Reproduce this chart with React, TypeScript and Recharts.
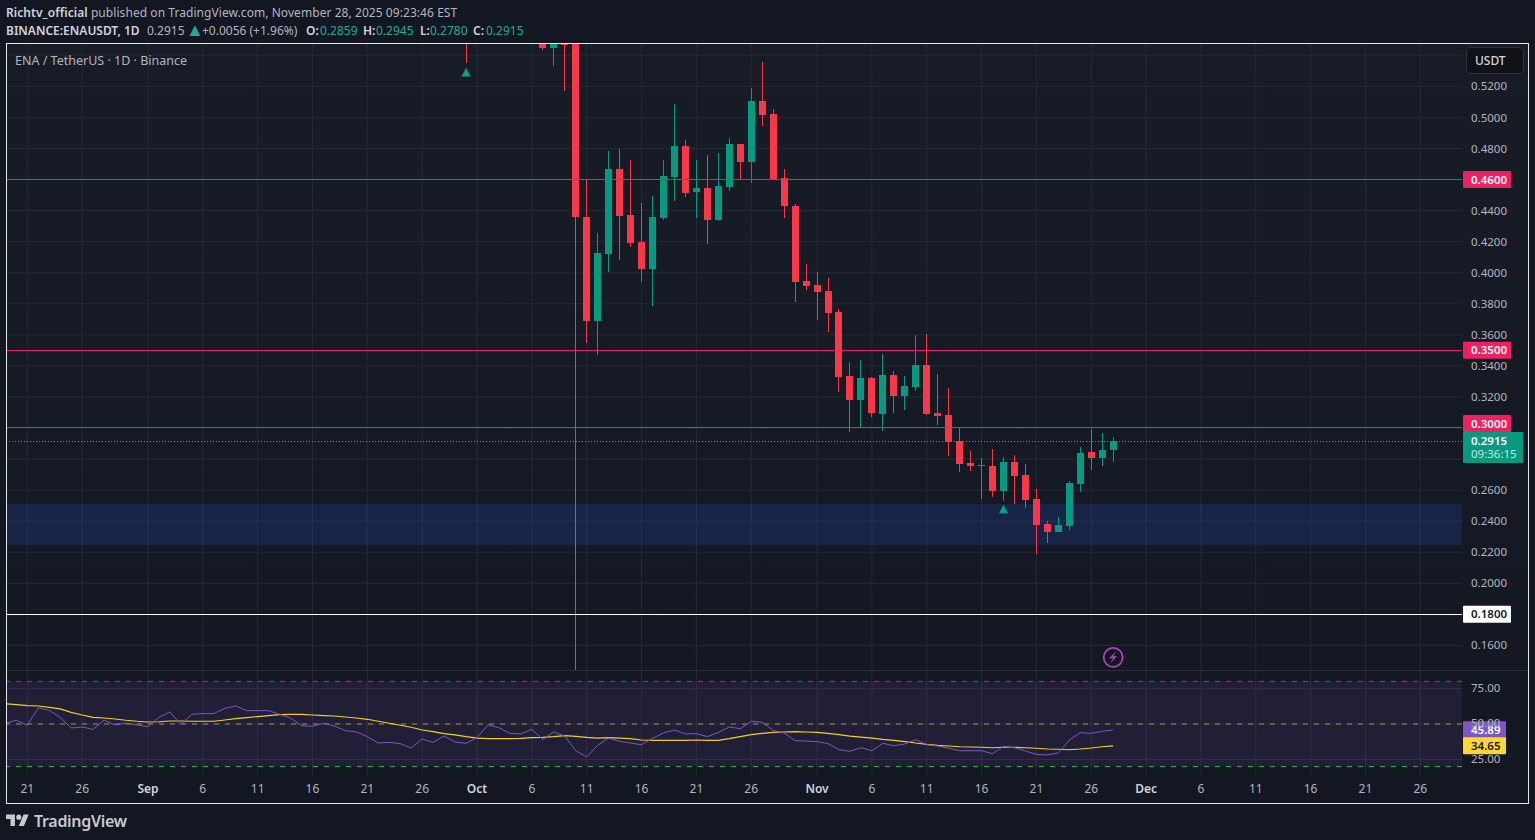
import {
  Bar,
  CartesianGrid,
  ComposedChart,
  Line,
  ReferenceArea,
  ReferenceDot,
  ReferenceLine,
  XAxis,
  YAxis,
} from "recharts";

// days are counted from Oct 1 2025 = 0
const candleDays = [
  -1, 6, 7, 8, 9, 10, 11, 12, 13, 14, 15, 16, 17, 18, 19, 20, 21, 22, 23, 24, 25, 26, 27, 28, 29, 30,
  31, 32, 33, 34, 35, 36, 37, 38, 39, 40, 41, 42, 43, 44, 45, 46, 47, 48, 49, 50, 51, 52, 53, 54, 55, 56, 57, 58,
];
const opens = [
  0.565, 0.552, 0.5445, 0.552, 0.5471, 0.4361, 0.369, 0.4123, 0.4665, 0.4374, 0.42, 0.4026, 0.4355, 0.4619, 0.4819,
  0.4523, 0.4548, 0.4342, 0.4555, 0.4826, 0.471, 0.5103, 0.5019, 0.4613, 0.4432, 0.3948,
  0.3923, 0.3884, 0.3748, 0.3335, 0.3181, 0.3323, 0.309, 0.3342, 0.3206, 0.3265, 0.3406, 0.3097, 0.3084, 0.2916,
  0.2774, 0.2761, 0.2755, 0.2594, 0.2781, 0.2697, 0.2542, 0.2381, 0.2329, 0.2368, 0.2639, 0.2845, 0.2806, 0.2859,
];
const highs = [
  0.575, 0.556, 0.56, 0.56, 0.55, 0.4594, 0.4258, 0.4781, 0.48, 0.4723, 0.4452, 0.4497, 0.4729, 0.5084, 0.4852,
  0.4723, 0.4761, 0.4768, 0.4865, 0.4826, 0.5187, 0.5355, 0.5052, 0.4665, 0.4445, 0.4058,
  0.4006, 0.3968, 0.3768, 0.3426, 0.3439, 0.3329, 0.3477, 0.3368, 0.3335, 0.36, 0.3606, 0.3348, 0.3258, 0.3006,
  0.2852, 0.2806, 0.2865, 0.2813, 0.2826, 0.2768, 0.2606, 0.24, 0.2426, 0.2658, 0.2877, 0.2994, 0.2968, 0.2945,
];
const lows = [
  0.5348, 0.5432, 0.5331, 0.517, 0.13, 0.355, 0.3467, 0.4002, 0.4084, 0.4168, 0.3942, 0.3787, 0.4342, 0.4465, 0.449,
  0.4355, 0.4187, 0.4335, 0.4529, 0.4594, 0.4581, 0.4948, 0.4594, 0.4355, 0.3813, 0.389,
  0.3697, 0.3619, 0.3232, 0.2974, 0.3006, 0.3071, 0.2981, 0.3097, 0.3116, 0.3239, 0.3084, 0.3019, 0.2819, 0.2716,
  0.2723, 0.2542, 0.2555, 0.2529, 0.251, 0.2484, 0.2187, 0.2258, 0.2329, 0.2342, 0.2587, 0.2729, 0.2755, 0.278,
];
const closes = [
  0.556, 0.5445, 0.551, 0.5465, 0.4357, 0.369, 0.4129, 0.4665, 0.4368, 0.4194, 0.4026, 0.4361, 0.4626, 0.4819, 0.4516,
  0.4548, 0.4342, 0.4561, 0.4826, 0.471, 0.5103, 0.5013, 0.4606, 0.4432, 0.3942, 0.3916,
  0.3877, 0.3742, 0.3329, 0.3181, 0.3323, 0.3097, 0.3342, 0.3206, 0.3271, 0.3406, 0.309, 0.3077, 0.291, 0.2768,
  0.2755, 0.2755, 0.2594, 0.2781, 0.269, 0.2535, 0.2374, 0.2329, 0.2374, 0.2645, 0.2839, 0.2806, 0.2859, 0.2915,
];

// RSI panel starts Aug 19 (day -43)
const rsiFirstDay = -43;
const rsiValues = [
  50.5, 52.6, 49.1, 61.3, 59.6, 54.7, 47.2, 47.9, 46.2, 52.8, 49.3, 50.7, 49.3,
  48.1, 54.7, 58.5, 49.8, 56.8, 57.3, 57.3, 61.0, 62.7, 59.4, 59.4, 59.4, 56.8, 54.2, 48.8, 48.4, 50.5, 48.6, 45.3,
  44.4, 41.1, 36.6, 37.1, 36.2, 33.1, 39.4, 37.1, 41.5, 37.3, 36.4,
  40.4, 49.3, 47.4, 43.4, 43.0, 46.2, 39.0, 44.4, 41.5, 31.2, 26.8, 35.0, 40.1, 37.8, 36.6, 35.4, 39.9, 43.7, 45.8,
  43.0, 43.2, 41.1, 44.1, 47.9, 46.7, 51.9, 51.2, 45.5, 43.7, 38.3, 38.0,
  37.6, 36.2, 31.9, 30.8, 33.3, 31.2, 36.4, 34.7, 35.9, 39.0, 35.4, 34.5, 32.9, 31.2, 31.2, 31.2, 29.1, 34.3, 33.3,
  31.0, 28.6, 28.2, 29.6, 38.7, 43.9, 43.4, 44.8, 45.89,
];
const rsiMaValues = [
  64.3, 63.6, 62.9, 62.7, 61.7, 60.6, 58.2, 56.3, 54.7, 54.2, 53.5, 52.6, 51.9,
  51.4, 51.6, 52.1, 52.1, 51.9, 51.9, 51.9, 52.8, 53.8, 54.5, 55.2, 55.9, 56.6, 56.8, 56.8, 56.3, 55.9, 55.6, 54.9,
  54.2, 53.3, 51.9, 50.5, 49.1, 47.7, 45.8, 44.6, 43.2, 42.3, 41.1,
  40.1, 39.7, 39.7, 39.7, 39.9, 40.4, 40.6, 41.1, 41.8, 41.3, 40.6, 40.1, 40.4, 40.1, 39.7, 38.7, 38.5, 38.5, 38.5,
  38.5, 38.7, 38.5, 38.5, 39.7, 41.1, 42.5, 43.4, 44.1, 44.4, 44.6, 44.4,
  44.1, 43.4, 42.5, 41.5, 40.8, 40.1, 39.2, 38.5, 37.6, 36.6, 35.7, 35.0, 34.5, 34.0, 33.8, 33.6, 33.3, 33.6, 33.6,
  33.3, 32.9, 32.4, 32.2, 31.9, 32.4, 33.1, 34.0, 34.65,
];

const timeTickDays = [-41, -36, -30, -25, -20, -15, -10, -5, 0, 5, 10, 15, 20, 25, 31, 36, 41, 46, 51, 56, 61, 66, 71, 76, 81, 86];
const timeTickLabels = ["21", "26", "Sep", "6", "11", "16", "21", "26", "Oct", "6", "11", "16", "21", "26", "Nov", "6", "11", "16", "21", "26", "Dec", "6", "11", "16", "21", "26"];
const priceTicks = [0.16, 0.18, 0.2, 0.22, 0.24, 0.26, 0.28, 0.3, 0.32, 0.34, 0.36, 0.38, 0.4, 0.42, 0.44, 0.46, 0.48, 0.5, 0.52, 0.54];
const hiddenPriceLabels = [0.18, 0.28, 0.3, 0.46, 0.54];
const rsiTicks = [25, 50, 75];
const signalDays = [-1, 48];
const signalPrices = [0.529, 0.2477];

const candleData = candleDays.map((day, i) => ({
  day,
  open: opens[i],
  close: closes[i],
  high: highs[i],
  low: lows[i],
  range: [lows[i], highs[i]],
}));
const rsiData = rsiValues.map((rsi, i) => ({ day: rsiFirstDay + i, rsi, ma: rsiMaValues[i] }));

const FONT = '"Noto Sans", sans-serif';
const UP = "#089981";
const DOWN = "#f7374a";
const GRID = "#262a35";
const TICK = "#b2b5be";
const PINK = "#ec2160";
const X_DOMAIN = [-42.85, 89.8];

function Candle(props: any) {
  const { x, y, width, height, payload } = props;
  const cx = Math.floor(x + width / 2);
  const perUnit = height / (payload.high - payload.low);
  const yOf = (v: number) => y + (payload.high - v) * perUnit;
  const top = yOf(Math.max(payload.open, payload.close));
  const bottom = yOf(Math.min(payload.open, payload.close));
  const color = payload.close >= payload.open ? UP : DOWN;
  return (
    <g shapeRendering="crispEdges">
      <rect x={cx} y={y} width={1} height={height} fill={color} />
      <rect x={cx - 3} y={top} width={7} height={Math.max(bottom - top, 1)} fill={color} />
    </g>
  );
}

function PriceTag(props: any) {
  const { viewBox, text, bg, color = "#fff", width = 48, sub, height = 17, top } = props;
  const x = viewBox.x + viewBox.width + 1;
  const y = top ?? viewBox.y - height / 2;
  return (
    <g fontFamily={FONT} fontSize={11.5}>
      <rect x={x} y={y} width={width} height={height} rx={1} fill={bg} />
      <text x={x + 8} y={y + 12.5} fill={color} fontWeight={600}>
        {text}
      </text>
      {sub && (
        <text x={x + 8} y={y + 26} fill="#c6e6df" fontSize={11.5}>
          {sub}
        </text>
      )}
    </g>
  );
}

function SignalArrow(props: any) {
  const { cx, cy } = props;
  return <path d={`M${cx} ${cy - 4.5} L${cx + 4.5} ${cy + 4} L${cx - 4.5} ${cy + 4} Z`} fill="#0e9f87" stroke="#0b6b5f" strokeWidth={0.6} />;
}

function BoltIcon(props: any) {
  const { cx, cy } = props;
  return (
    <g>
      <circle cx={cx} cy={cy} r={9.5} fill="none" stroke="#ab47bc" strokeWidth={1.8} />
      <path d={`M${cx + 3} ${cy - 6} L${cx - 4} ${cy + 1} L${cx} ${cy + 1} L${cx - 3} ${cy + 6} L${cx + 4} ${cy - 1} L${cx} ${cy - 1} Z`} fill="#ab47bc" />
    </g>
  );
}

function TimeTick(props: any) {
  const { x, y, payload } = props;
  const label = timeTickLabels[timeTickDays.indexOf(payload.value)];
  const isMonth = label.length === 3;
  return (
    <text x={x} y={y} textAnchor="middle" fontFamily={FONT} fontSize={12} fill={isMonth ? "#d1d4dc" : TICK} fontWeight={isMonth ? 600 : 400}>
      {label}
    </text>
  );
}

const strong = { color: "#d1d4dc", fontWeight: 600 };
const teal = { color: "#22ab94" };

function At({ x, style, children }: any) {
  return <span style={{ position: "absolute", left: x, top: 0, ...style }}>{children}</span>;
}

export default function App() {
  return (
    <div style={{ position: "absolute", left: 0, top: 0, width: 1535, height: 840, overflow: "hidden", background: "#131722", fontFamily: FONT }}>
      <div style={{ position: "absolute", left: 6, top: 4, fontSize: 12, color: TICK, whiteSpace: "nowrap", letterSpacing: 0.06 }}>
        <span style={strong}>Richtv_official</span> published on TradingView.com, November 28, 2025 09:23:46 EST
      </div>
      <div style={{ position: "absolute", left: 0, top: 22, fontSize: 12, color: TICK, whiteSpace: "nowrap" }}>
        <At x={6} style={strong}>BINANCE:ENAUSDT, 1D</At>
        <At x={147}>0.2915</At>
        <At x={186} style={{ ...teal, fontSize: 18, lineHeight: "16px", top: -1 }}>▲</At>
        <At x={202}>+0.0056 (+1.96%)</At>
        <At x={306} style={strong}>O:</At>
        <At x={320} style={teal}>0.2859</At>
        <At x={363} style={strong}>H:</At>
        <At x={376} style={teal}>0.2945</At>
        <At x={420} style={strong}>L:</At>
        <At x={430} style={teal}>0.2780</At>
        <At x={473} style={strong}>C:</At>
        <At x={486} style={teal}>0.2915</At>
      </div>

      {/* chart frame */}
      <div style={{ position: "absolute", left: 6, top: 43, width: 1521, height: 759, border: "1px solid #e8e8ea", background: "linear-gradient(#181c27, #131722)" }} />

      <div style={{ position: "absolute", left: 7, top: 44 }}>
        <ComposedChart width={1521} height={627} data={candleData} margin={{ top: 0, right: 0, bottom: 0, left: 0 }}>
          <CartesianGrid stroke={GRID} verticalValues={timeTickDays} horizontalValues={priceTicks} />
          <XAxis dataKey="day" type="number" domain={X_DOMAIN} allowDataOverflow ticks={timeTickDays} hide />
          <YAxis
            orientation="right"
            width={66}
            domain={[0.1435, 0.5473]}
            allowDataOverflow
            ticks={priceTicks}
            interval={0}
            axisLine={false}
            tickLine={false}
            tickSize={0}
            tickMargin={9}
            tick={{ fill: TICK, fontSize: 11.5, fontFamily: FONT }}
            tickFormatter={(v: number) => (hiddenPriceLabels.includes(v) ? "" : v.toFixed(4))}
          />
          <ReferenceArea y1={0.2245} y2={0.251} fill="#2962ff" fillOpacity={0.16} stroke="none" />
          <ReferenceLine y={0.46} stroke={PINK} shapeRendering="crispEdges" label={<PriceTag text="0.4600" bg={PINK} />} />
          <ReferenceLine y={0.35} stroke={PINK} shapeRendering="crispEdges" label={<PriceTag text="0.3500" bg={PINK} />} />
          <ReferenceLine y={0.3} stroke={PINK} shapeRendering="crispEdges" label={<PriceTag text="0.3000" bg={PINK} top={371} />} />
          <ReferenceLine y={0.18} stroke="#ffffff" shapeRendering="crispEdges" label={<PriceTag text="0.1800" bg="#ffffff" color="#131722" />} />
          <ReferenceLine y={0.2915} stroke="#12a88e" strokeDasharray="1 2" shapeRendering="crispEdges" label={<PriceTag text="0.2915" sub="09:36:15" bg={UP} width={60} height={31} top={388} />} />
          <Bar dataKey="range" barSize={7} shape={<Candle />} isAnimationActive={false} />
          {signalDays.map((d, i) => (
            <ReferenceDot key={d} x={d} y={signalPrices[i]} r={4} shape={<SignalArrow />} />
          ))}
          <ReferenceDot x={58} y={0.1523} r={9} shape={<BoltIcon />} />
        </ComposedChart>
      </div>

      <div style={{ position: "absolute", left: 15, top: 52, fontSize: 12.5, color: TICK }}>ENA / TetherUS · 1D · Binance</div>
      <div style={{ position: "absolute", left: 1466, top: 47, width: 48, height: 25, paddingLeft: 8, lineHeight: "25px", fontSize: 12, fontWeight: 500, color: "#d1d4dc", background: "#101217", border: "1px solid #2f333e", borderRadius: 5 }}>
        USDT
      </div>

      {/* separator between panes */}
      <div style={{ position: "absolute", left: 7, top: 670, width: 1521, height: 1, background: "#2a2e39" }} />

      <div style={{ position: "absolute", left: 7, top: 671 }}>
        <ComposedChart width={1521} height={132} data={rsiData} margin={{ top: 0, right: 0, bottom: 0, left: 0 }}>
          <CartesianGrid stroke={GRID} verticalValues={timeTickDays} horizontalValues={rsiTicks} />
          <XAxis
            dataKey="day"
            type="number"
            domain={X_DOMAIN}
            allowDataOverflow
            ticks={timeTickDays}
            interval={0}
            height={28}
            axisLine={false}
            tickLine={false}
            tickSize={0}
            tickMargin={18}
            tick={<TimeTick />}
          />
          <YAxis
            orientation="right"
            width={66}
            domain={[14.1, 87.3]}
            allowDataOverflow
            ticks={rsiTicks}
            interval={0}
            axisLine={false}
            tickLine={false}
            tickSize={0}
            tickMargin={9}
            tick={{ fill: TICK, fontSize: 11.5, fontFamily: FONT, dy: -1 }}
            tickFormatter={(v: number) => v.toFixed(2)}
          />
          <ReferenceArea y1={20} y2={80} fill="#7e57c2" fillOpacity={0.13} stroke="none" />
          <ReferenceLine y={80} stroke="#d0245f" strokeDasharray="5 6" />
          <ReferenceLine y={50} stroke="#a8942c" strokeDasharray="5 6" />
          <ReferenceLine y={20} stroke="#43b84c" strokeDasharray="5 6" />
          <Line dataKey="ma" stroke="#f5cd2d" strokeWidth={1.15} dot={false} activeDot={false} isAnimationActive={false} />
          <Line dataKey="rsi" stroke="#7e57c2" strokeWidth={1} dot={false} activeDot={false} isAnimationActive={false} />
          <ReferenceLine y={45.89} strokeOpacity={0} label={<PriceTag text="45.89" bg="#7e57c2" width={43} />} />
          <ReferenceLine y={34.65} strokeOpacity={0} label={<PriceTag text="34.65" bg="#fdd835" color="#131722" width={43} />} />
        </ComposedChart>
      </div>

      {/* footer logo */}
      <svg style={{ position: "absolute", left: 6, top: 812 }} width={23} height={18} viewBox="0 0 36 28">
        <path d="M14 22H7V11H0V4h14v18zM28 22h-8l7.5-18h8L28 22z" fill="#c8cad0" />
        <circle cx={20} cy={8} r={4} fill="#c8cad0" />
      </svg>
      <div style={{ position: "absolute", left: 34, top: 810, fontSize: 16, fontWeight: 600, color: "#c8cad0", letterSpacing: -0.3 }}>TradingView</div>
    </div>
  );
}
